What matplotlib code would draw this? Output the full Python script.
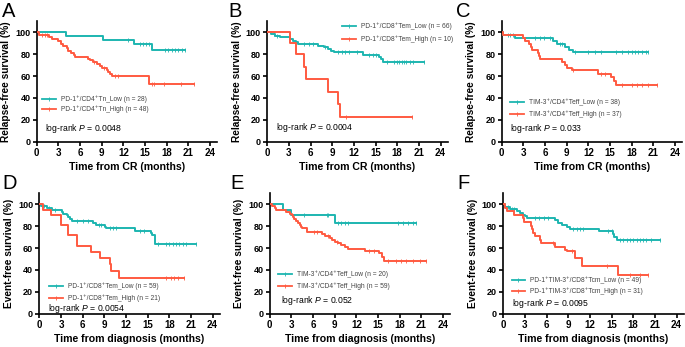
"""Kaplan-Meier curves, six panels (A-F)"""

import matplotlib.pyplot as plt

plt.rcParams['font.family'] = ['Liberation Sans', 'DejaVu Sans']
plt.rcParams['mathtext.fontset'] = 'custom'
plt.rcParams['mathtext.rm'] = 'Liberation Sans'
plt.rcParams['mathtext.it'] = 'Liberation Sans:italic'

TEAL = '#1db5b0'
RED = '#ff5a40'

# ---- data ----
# A
a_low_t = [0, 4.05, 9.2, 13.5, 15.9]
a_low_s = [100, 96.4, 92.8, 89.0, 83.6]
a_low_end = 20.5
a_low_cens = [12.7, 14.3, 14.7, 15.1, 15.6, 17.8, 18.2, 18.7, 19.2, 19.6, 20.1, 20.5]
a_high_t = [0, 0.37, 1.75, 2.1, 3.0, 3.3, 3.7, 4.15, 4.4, 4.7, 5.1, 5.35, 7.15, 7.4,
            7.85, 8.4, 8.7, 9.0, 9.7, 9.9, 10.15, 10.4, 15.55]
a_high_s = [100, 97.9, 95.8, 93.8, 91.7, 89.6, 87.5, 85.4, 83.3, 81.3, 79.2, 77.7, 76.0, 74.5,
            73.0, 71.2, 69.4, 67.6, 65.8, 64.0, 61.9, 59.8, 52.5]
a_high_end = 21.8
a_high_cens = [0.7, 1.15, 1.4, 8.0, 9.3, 10.8, 11.2, 15.9, 16.3, 17.6, 20.0, 21.8]

# B
b_low_t = [0, 0.5, 1.0, 1.8, 3.1, 3.5, 4.0, 4.3, 7.0, 7.9, 8.4, 8.8, 9.3, 13.2, 15.5, 15.8, 16.0]
b_low_s = [100, 98.5, 97.0, 95.5, 94.0, 92.4, 90.9, 89.4, 87.9, 86.4, 84.8, 83.3, 82.0,
           79.5, 77.5, 75.5, 73.0]
b_low_end = 21.7
b_low_cens = [0.9, 1.4, 5.1, 5.8, 6.3, 8.0, 9.8, 10.3, 10.8, 11.3, 12.4, 14.1, 14.6, 15.0,
              16.6, 17.5, 18.0, 18.3, 18.6, 18.9, 19.2, 19.7, 20.2, 21.7]
b_high_t = [0, 3.08, 4.0, 5.15, 5.3, 8.45, 9.75, 10.07]
b_high_s = [100, 90, 80, 68.6, 57.1, 45.7, 34.3, 22.9]
b_high_end = 20.1
b_high_cens = [10.9, 20.1]

# C
c_low_t = [0, 0.15, 1.85, 7.15, 7.6, 8.8, 9.3, 9.9]
c_low_s = [100, 97.4, 94.7, 92.0, 89.2, 86.5, 84.0, 81.8]
c_low_end = 20.3
c_low_cens = [0.9, 1.1, 1.6, 4.6, 5.3, 5.8, 6.7, 8.1, 8.3, 10.2, 12.0, 12.9, 13.8, 15.9,
              16.6, 17.5, 18.0, 18.5, 18.9, 19.4, 20.0, 20.3]
c_high_t = [0, 0.2, 3.0, 3.2, 3.8, 4.0, 4.2, 5.0, 5.2, 5.3, 8.3, 8.7, 9.0, 9.7, 13.4, 15.1,
            15.6, 15.8]
c_high_s = [100, 97.3, 94.6, 91.9, 89.2, 86.5, 83.8, 81.1, 78.4, 75.5, 73.0, 70.3, 67.6,
            65.2, 62.0, 58.8, 55.8, 52.2]
c_high_end = 21.5
c_high_cens = [9.9, 13.8, 14.3, 16.6, 18.0, 18.7, 19.4, 20.3, 21.5]

# D
d_low_t = [0, 0.3, 1.0, 1.7, 3.1, 3.3, 3.8, 4.0, 4.2, 4.5, 7.4, 7.9, 9.05, 9.3, 13.2, 15.5,
           15.6, 16.0]
d_low_s = [100, 98.3, 96.6, 94.9, 93.2, 91.5, 89.8, 88.1, 86.4, 84.7, 83.0, 81.3, 79.6,
           78.2, 75.3, 73.4, 71.8, 63.8]
d_low_end = 21.7
d_low_cens = [0.7, 1.3, 2.2, 5.2, 6.0, 6.8, 8.2, 8.6, 9.8, 10.2, 10.6, 14.0, 14.5,
              16.4, 17.6, 18.0, 18.5, 19.0, 19.4, 19.9, 20.3, 21.7]
d_high_t = [0, 0.55, 1.6, 3.0, 4.0, 5.15, 7.2, 8.45, 9.75, 9.9, 11.0]
d_high_s = [100, 95.2, 90.5, 81.4, 71.6, 61.9, 56.4, 50.6, 45.0, 39.3, 32.9]
d_high_end = 20.1
d_high_cens = [17.6, 18.3, 18.7, 19.2, 20.1]

# E
e_low_t = [0, 1.85, 3.0, 9.1]
e_low_s = [100, 95.0, 90.0, 83.2]
e_low_end = 20.3
e_low_cens = [4.8, 7.9, 8.1, 9.5, 9.9, 10.4, 10.8, 17.8, 18.5, 19.2, 19.8, 20.3]
e_high_t = [0, 0.37, 0.7, 0.9, 2.3, 2.8, 3.1, 3.2, 3.3, 3.7, 3.9, 4.2, 4.3, 4.5, 5.1, 5.2,
            7.2, 7.6, 8.3, 8.6, 9.0, 9.5, 9.9, 10.4, 10.85, 13.15, 15.2, 15.55, 15.8]
e_high_s = [100, 98.3, 96.6, 94.9, 93.2, 91.5, 89.8, 88.1, 86.4, 84.7, 83.0, 81.3, 79.6,
            77.9, 76.2, 74.3, 72.8, 71.1, 69.4, 67.7, 66.0, 64.3, 62.6, 61.2, 59.3, 57.0,
            55.3, 51.6, 47.8]
e_high_end = 21.7
e_high_cens = [6.1, 6.6, 8.1, 9.3, 13.8, 14.5, 16.4, 17.5, 18.2, 18.9, 19.8, 20.8, 21.7]

# F
f_low_t = [0, 0.23, 0.9, 1.85, 2.3, 2.8, 3.0, 3.3, 7.15, 7.6, 8.2, 8.8, 9.2, 13.3, 15.2,
           15.4, 15.7]
f_low_s = [100, 98.0, 96.0, 94.0, 92.0, 90.0, 88.9, 87.4, 85.5, 83.3, 81.2, 79.2, 77.6,
           75.2, 72.7, 70.5, 67.0]
f_low_end = 21.7
f_low_cens = [0.6, 1.2, 1.5, 4.4, 5.0, 5.6, 6.2, 9.7, 10.2, 10.6, 11.1, 14.5, 15.0,
              16.2, 16.6, 17.1, 17.5, 18.0, 18.5, 18.9, 19.4, 19.8, 20.5, 21.7]
f_high_t = [0, 0.3, 0.45, 1.5, 2.8, 2.9, 3.8, 4.0, 4.15, 4.4, 5.1, 5.2, 7.15, 8.55, 8.8,
            10.0, 10.85, 15.9]
f_high_s = [100, 96.8, 93.6, 90.3, 87.1, 83.9, 80.6, 77.4, 74.2, 71.0, 67.7, 64.2, 61.0,
            58.5, 57.2, 51.1, 43.4, 35.0]
f_high_end = 20.1
f_high_cens = [6.9, 9.5, 14.3, 17.5, 18.9, 20.1]

panels = [
    ('A', 'Relapse-free survival (%)', 'Time from CR (months)',
     (a_low_t, a_low_s, a_low_end, a_low_cens), (a_high_t, a_high_s, a_high_end, a_high_cens),
     ['PD-1⁺/CD4⁺Tn_Low (n = 28)', 'PD-1⁺/CD4⁺Tn_High (n = 48)'], 'log-rank $P$ = 0.0048'),
    ('B', 'Relapse-free survival (%)', 'Time from CR (months)',
     (b_low_t, b_low_s, b_low_end, b_low_cens), (b_high_t, b_high_s, b_high_end, b_high_cens),
     ['PD-1⁺/CD8⁺Tem_Low (n = 66)', 'PD-1⁺/CD8⁺Tem_High (n = 10)'], 'log-rank $P$ = 0.0004'),
    ('C', 'Relapse-free survival (%)', 'Time from CR (months)',
     (c_low_t, c_low_s, c_low_end, c_low_cens), (c_high_t, c_high_s, c_high_end, c_high_cens),
     ['TIM-3⁺/CD4⁺Teff_Low (n = 38)', 'TIM-3⁺/CD4⁺Teff_High (n = 37)'], 'log-rank $P$ = 0.033'),
    ('D', 'Event-free survival (%)', 'Time from diagnosis (months)',
     (d_low_t, d_low_s, d_low_end, d_low_cens), (d_high_t, d_high_s, d_high_end, d_high_cens),
     ['PD-1⁺/CD8⁺Tem_Low (n = 59)', 'PD-1⁺/CD8⁺Tem_High (n = 21)'], 'log-rank $P$ = 0.0054'),
    ('E', 'Event-free survival (%)', 'Time from diagnosis (months)',
     (e_low_t, e_low_s, e_low_end, e_low_cens), (e_high_t, e_high_s, e_high_end, e_high_cens),
     ['TIM-3⁺/CD4⁺Teff_Low (n = 20)', 'TIM-3⁺/CD4⁺Teff_High (n = 59)'], 'log-rank $P$ = 0.052'),
    ('F', 'Event-free survival (%)', 'Time from diagnosis (months)',
     (f_low_t, f_low_s, f_low_end, f_low_cens), (f_high_t, f_high_s, f_high_end, f_high_cens),
     ['PD-1⁺TIM-3⁺/CD8⁺Tcm_Low (n = 49)', 'PD-1⁺TIM-3⁺/CD8⁺Tcm_High (n = 31)'],
     'log-rank $P$ = 0.0095'),
]

# layout (figure fractions) and legend / p-value placement in data coords
ax_left = [0.0536, 0.3902, 0.7324, 0.0574, 0.3937, 0.7347]
ax_bottom = [0.5916, 0.5916, 0.5916, 0.096, 0.096, 0.096]
leg_pos = [(0.75, 39, 30), (10.4, 106, 94), (1.15, 36, 25.3),
           (1.4, 25.3, 14.3), (1.15, 36, 25.3), (1.15, 31, 20.4)]
p_pos = [(1.15, 12), (1.25, 13), (1.15, 12), (1.25, 5.2), (1.6, 12), (1.25, 9)]
letter_xy = [(0.003, 0.995), (0.333, 0.995), (0.665, 0.995),
             (0.003, 0.498), (0.336, 0.498), (0.668, 0.498)]


def level_at(t, s, x):
    lv = s[0]
    for ti, si in zip(t, s):
        if ti <= x:
            lv = si
    return lv


fig = plt.figure(figsize=(6.85, 3.47), dpi=100)

for i, (letter, ylab, xlab, low, high, labels, ptxt) in enumerate(panels):
    ax = fig.add_axes([ax_left[i], ax_bottom[i], 0.2635, 0.3467])
    for (t, s, end, cens), col in [(low, TEAL), (high, RED)]:
        ax.step(t + [end], s + [s[-1]], where='post', color=col, lw=1.4, zorder=3)
        ax.plot(cens, [level_at(t, s, c) for c in cens], ls='none', marker='|',
                ms=2.6, mew=0.6, color=col, zorder=3)

    # legend drawn by hand, GraphPad style
    lx, ly1, ly2 = leg_pos[i]
    for ly, col, lab in [(ly1, TEAL, labels[0]), (ly2, RED, labels[1])]:
        ax.plot([lx, lx + 1.9], [ly, ly], color=col, lw=1.3)
        ax.plot([lx + 0.95], [ly], marker='|', ms=2.6, mew=0.6, color=col)
        ax.text(lx + 2.6, ly, lab, fontsize=4.8, va='center', ha='left', color='#444444')
    ax.text(p_pos[i][0], p_pos[i][1], ptxt, fontsize=6.2, va='center', ha='left')

    ax.set_xlim(0, 25)
    ax.set_ylim(0, 110)
    ax.set_xticks(range(0, 25, 3))
    ax.set_yticks(range(0, 101, 20))
    ax.spines['top'].set_visible(False)
    ax.spines['right'].set_visible(False)
    ax.spines['left'].set_linewidth(1.2)
    ax.spines['bottom'].set_linewidth(1.2)
    ax.tick_params(axis='both', width=1.2, length=3, pad=1.5)
    ax.tick_params(axis='x', labelsize=7)
    ax.tick_params(axis='y', labelsize=6.5)
    for lab in ax.get_xticklabels() + ax.get_yticklabels():
        lab.set_fontweight('bold')
    ax.set_ylabel(ylab, fontsize=7.3, fontweight='bold', labelpad=3)
    ax.set_xlabel(xlab, fontsize=7.6, fontweight='bold', labelpad=3)

    fig.text(letter_xy[i][0], letter_xy[i][1], letter, fontsize=14.5, va='top', ha='left')

plt.savefig('out.png', dpi=100)
